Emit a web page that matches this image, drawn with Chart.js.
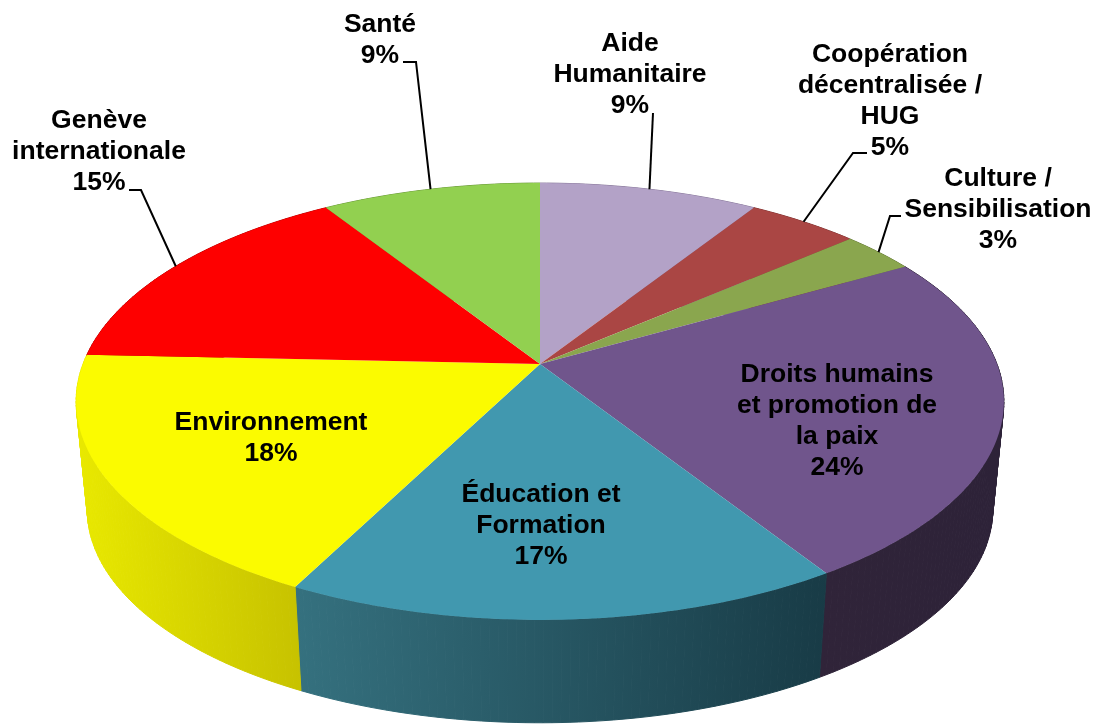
<!DOCTYPE html>
<html lang="fr">
<head>
<meta charset="utf-8">
<title>Répartition</title>
<script src="https://cdn.jsdelivr.net/npm/chart.js@4"></script>
<style>
  html, body { margin: 0; padding: 0; background: #fff; }
  canvas { display: block; }
</style>
</head>
<body>
<canvas id="myChart" width="1095" height="724"></canvas>
<script>
// data, clockwise from 12 o'clock
const categories = ['Aide Humanitaire', 'Coopération décentralisée / HUG', 'Culture / Sensibilisation', 'Droits humains et promotion de la paix', 'Éducation et Formation', 'Environnement', 'Genève internationale', 'Santé'];
const shares = [9, 4.6, 3.1, 24.3, 16.5, 18.2, 15.3, 9];

// colours
const topColors = ['#b3a2c7', '#aa4644', '#8aa64e', '#70558c', '#4198af', '#fbfb00', '#fe0000', '#92d050'];
const wallLeft = ['#8a7a9c', '#7f3432', '#667a39', '#302439', '#35717f', '#e9e900', '#bb0000', '#6c9a3b'];
const wallRight = ['#8a7a9c', '#7f3432', '#667a39', '#2d2238', '#183b46', '#c7c200', '#bb0000', '#6c9a3b'];

// label text lines, without the percent line
const labelLines = [
  ['Aide', 'Humanitaire'],
  ['Coopération', 'décentralisée /', 'HUG'],
  ['Culture /', 'Sensibilisation'],
  ['Droits humains', 'et promotion de', 'la paix'],
  ['Éducation et', 'Formation'],
  ['Environnement'],
  ['Genève', 'internationale'],
  ['Santé']
];
// centre x and middle y of first line for each label
const labelX = [630, 890, 998, 837, 541, 271, 99, 380];
const labelY = [44, 55, 179, 375, 495, 423, 121, 25];
const lineStep = 31;

// leader lines: start of line, then elbow, then slice edge (null = no leader)
const leaders = [
  [[653, 113]],
  [[867, 153], [853, 153]],
  [[901, 216], [890, 216]],
  null,
  null,
  null,
  [[129, 190], [141, 190]],
  [[403, 62], [416, 62]]
];

// perspective of the pie, relative to the arc radius chart.js computes
const stretchX = 457 / 360;
const stretchY = 212 / 360;
const tilt = 0.1716;
const bottomScale = 0.976;
const bottomDrop = 109;

function project(arc, theta, scale, drop) {
  const w = 1 + tilt * Math.cos(theta);
  return {
    x: arc.x + scale * arc.outerRadius * stretchX * Math.sin(theta) / w,
    y: arc.y + drop - scale * arc.outerRadius * stretchY * Math.cos(theta) / w
  };
}

function arcPoints(arc, scale, drop) {
  const a = arc.startAngle + Math.PI / 2;
  const b = arc.endAngle + Math.PI / 2;
  const n = Math.max(8, Math.ceil((b - a) * 60));
  const pts = [];
  for (let i = 0; i <= n; i++) {
    pts.push(project(arc, a + (b - a) * i / n, scale, drop));
  }
  return pts;
}

const pie3d = {
  id: 'pie3d',
  beforeDatasetsDraw(chart) {
    const ctx = chart.ctx;
    const arcs = chart.getDatasetMeta(0).data;

    // side wall, small quads stroked in their own colour so no seams show
    arcs.forEach(function (arc, i) {
      const top = arcPoints(arc, 1, 0);
      const bottom = arcPoints(arc, bottomScale, bottomDrop);
      const xs = top.concat(bottom).map(function (p) { return p.x; });
      const grad = ctx.createLinearGradient(Math.min.apply(null, xs), 0, Math.max.apply(null, xs), 0);
      grad.addColorStop(0, wallLeft[i]);
      grad.addColorStop(1, wallRight[i]);
      ctx.fillStyle = grad;
      ctx.strokeStyle = grad;
      ctx.lineWidth = 1;
      for (let k = 0; k < top.length - 1; k++) {
        ctx.beginPath();
        ctx.moveTo(top[k].x, top[k].y);
        ctx.lineTo(top[k + 1].x, top[k + 1].y);
        ctx.lineTo(bottom[k + 1].x, bottom[k + 1].y);
        ctx.lineTo(bottom[k].x, bottom[k].y);
        ctx.closePath();
        ctx.fill();
        ctx.stroke();
      }
    });

    // top face
    arcs.forEach(function (arc, i) {
      const pts = arcPoints(arc, 1, 0);
      ctx.beginPath();
      ctx.moveTo(arc.x, arc.y);
      pts.forEach(function (p) { ctx.lineTo(p.x, p.y); });
      ctx.closePath();
      ctx.fillStyle = topColors[i];
      ctx.fill();
    });

    return false; // skip the flat pie
  },
  afterDraw(chart) {
    const ctx = chart.ctx;
    const arcs = chart.getDatasetMeta(0).data;
    const total = shares.reduce(function (s, v) { return s + v; }, 0);

    // leaders
    ctx.strokeStyle = '#000';
    ctx.lineWidth = 2;
    arcs.forEach(function (arc, i) {
      if (!leaders[i]) return;
      const mid = (arc.startAngle + arc.endAngle) / 2 + Math.PI / 2;
      const edge = project(arc, mid, 1, 0);
      ctx.beginPath();
      leaders[i].forEach(function (p, k) {
        if (k === 0) ctx.moveTo(p[0], p[1]);
        else ctx.lineTo(p[0], p[1]);
      });
      ctx.lineTo(edge.x, edge.y);
      ctx.stroke();
    });

    // labels
    ctx.fillStyle = '#000';
    ctx.font = 'bold 26.5px "Liberation Sans", Arial, sans-serif';
    ctx.textAlign = 'center';
    ctx.textBaseline = 'middle';
    categories.forEach(function (name, i) {
      const lines = labelLines[i].concat(Math.round(shares[i] / total * 100) + '%');
      lines.forEach(function (line, k) {
        ctx.fillText(line, labelX[i], labelY[i] + k * lineStep);
      });
    });
  }
};

new Chart(document.getElementById('myChart'), {
  type: 'pie',
  data: {
    labels: categories,
    datasets: [{
      data: shares,
      backgroundColor: topColors,
      borderWidth: 0
    }]
  },
  options: {
    responsive: false,
    animation: false,
    events: [],
    layout: { padding: { left: 0, right: 15, top: 4, bottom: 0 } },
    plugins: {
      legend: { display: false },
      tooltip: { enabled: false }
    }
  },
  plugins: [pie3d]
});
</script>
</body>
</html>
